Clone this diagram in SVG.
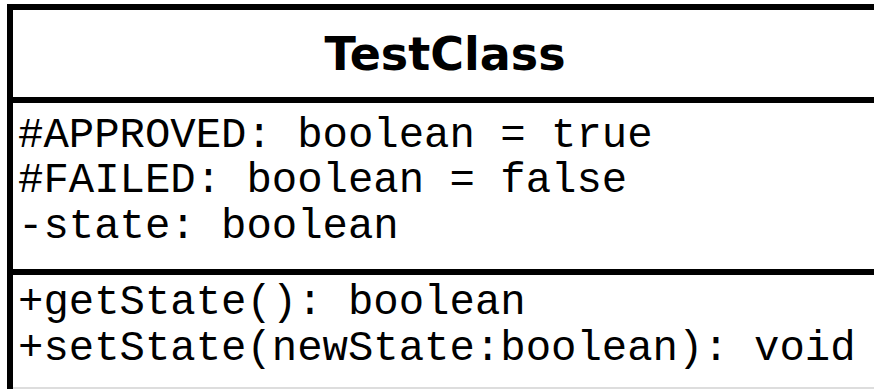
<svg xmlns="http://www.w3.org/2000/svg" width="874" height="389" viewBox="0 0 874 389">
<style>
.title{font-family:"DejaVu Sans","Liberation Sans",sans-serif;font-weight:bold;font-size:46px;fill:#000}
.mono{font-family:"Liberation Mono","Courier New",monospace;font-size:42.3px;fill:#000}
.border{stroke:#000;stroke-width:6;fill:none}
</style>
<rect width="874" height="389" fill="#fff"/>
<g id="TestClass">
<line class="border" x1="10" y1="7" x2="874" y2="7"/>
<line class="border" x1="10" y1="4" x2="10" y2="389"/>
<line class="border" x1="10" y1="100" x2="874" y2="100"/>
<line class="border" x1="10" y1="272" x2="874" y2="272"/>
<line x1="13" y1="388" x2="874" y2="388" stroke="#bbb" stroke-width="1"/>
<text class="title" x="445" y="70" text-anchor="middle">TestClass</text>
<text class="mono" x="18" y="147">#APPROVED: boolean = true</text>
<text class="mono" x="18" y="192">#FAILED: boolean = false</text>
<text class="mono" x="18" y="238">-state: boolean</text>
<text class="mono" x="18" y="314">+getState(): boolean</text>
<text class="mono" x="18" y="360">+setState(newState:boolean): void</text>
</g>
<g id="connectors"/>
</svg>
